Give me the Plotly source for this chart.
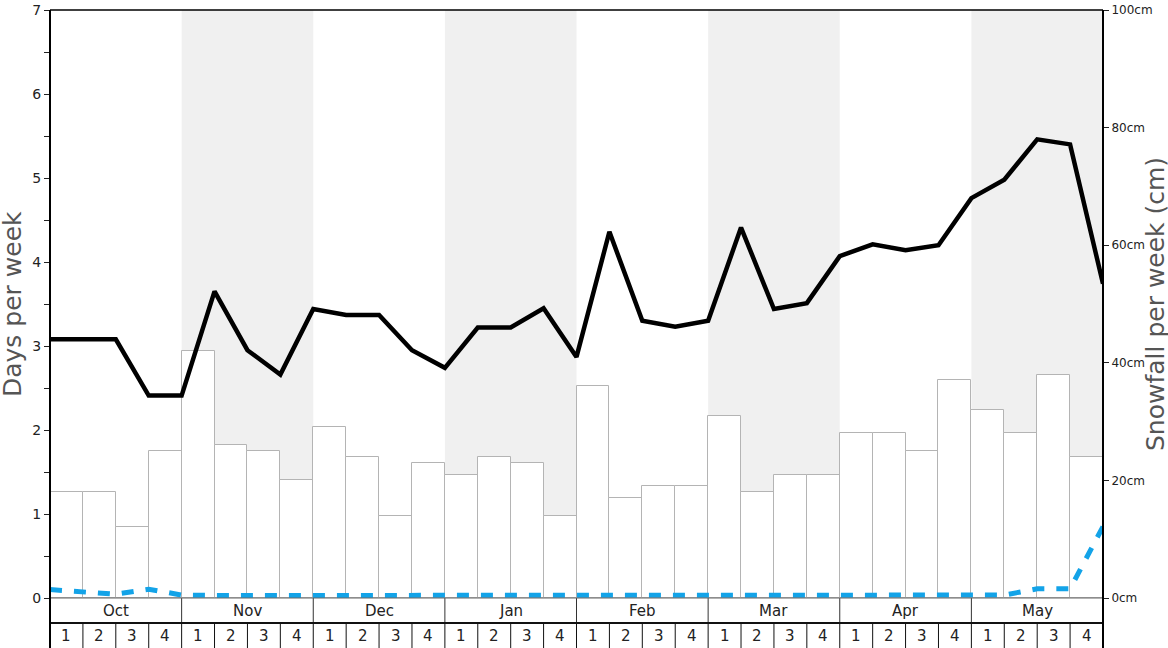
import plotly.graph_objects as go

months = ["Oct", "Nov", "Dec", "Jan", "Feb", "Mar", "Apr", "May"]
week_labels = ["1", "2", "3", "4"]
shaded_months = ["Nov", "Jan", "Mar", "May"]

# weekly snowfall (cm), 32 weeks
snowfall_cm = [18, 18, 12, 25, 42, 26, 25, 20, 29, 24, 14, 23, 21, 24, 23, 14,
               36, 17, 19, 19, 31, 18, 21, 21, 28, 28, 25, 37, 32, 28, 38, 24]

# days per week lines, sampled at week boundaries (33 points)
snow_days = [3.08, 3.08, 3.08, 2.41, 2.41, 3.65, 2.95, 2.66, 3.44, 3.37, 3.37, 2.95,
             2.74, 3.22, 3.22, 3.45, 2.87, 4.36, 3.30, 3.23, 3.30, 4.41, 3.44, 3.51,
             4.07, 4.21, 4.14, 4.20, 4.76, 4.98, 5.46, 5.40, 3.74]
other_days = [0.10, 0.07, 0.045, 0.105, 0.035, 0.03, 0.03, 0.03, 0.03, 0.03, 0.03, 0.03,
              0.03, 0.03, 0.03, 0.03, 0.03, 0.03, 0.03, 0.03, 0.03, 0.03, 0.03, 0.03,
              0.03, 0.03, 0.03, 0.03, 0.03, 0.035, 0.11, 0.11, 0.85]

n_weeks = len(snowfall_cm)
bar_x = [i + 0.5 for i in range(n_weeks)]
line_x = list(range(len(snow_days)))

PLOT_H = 588.0
PLOT_W = 1053.0
FONT = "DejaVu Sans"

fig = go.Figure()
fig.add_trace(go.Bar(x=bar_x, y=snowfall_cm, width=1, yaxis="y",
                     marker=dict(color="white", line=dict(color="#b4b4b4", width=1)),
                     showlegend=False))
fig.add_trace(go.Scatter(x=line_x, y=other_days, yaxis="y2", mode="lines",
                         line=dict(color="#13a3e8", width=5, dash="12px,12px"),
                         showlegend=False))
fig.add_trace(go.Scatter(x=line_x, y=snow_days, yaxis="y2", mode="lines",
                         line=dict(color="black", width=4.5),
                         showlegend=False))

shapes = []
annotations = []
bot1 = -25 / PLOT_H
bot2 = -50 / PLOT_H
for mi, m in enumerate(months):
    x0 = mi * 4
    if m in shaded_months:
        shapes.append(dict(type="rect", xref="x", yref="paper", x0=x0, x1=x0 + 4,
                           y0=0, y1=1, fillcolor="#f0f0f0", line_width=0, layer="below"))
    annotations.append(dict(x=x0 + 2, y=bot1 / 2, xref="x", yref="paper", text=m,
                            showarrow=False, yanchor="middle", xanchor="center",
                            font=dict(size=15, color="#222", family=FONT)))
    if mi > 0:
        shapes.append(dict(type="line", xref="x", yref="paper", x0=x0, x1=x0,
                           y0=0, y1=bot1, line=dict(color="#333", width=1)))
    for wi, w in enumerate(week_labels):
        annotations.append(dict(x=x0 + wi + 0.5, y=(bot1 + bot2) / 2, xref="x", yref="paper",
                                text=w, showarrow=False, yanchor="middle", xanchor="center",
                                font=dict(size=15, color="#222", family=FONT)))
for i in range(1, n_weeks):
    shapes.append(dict(type="line", xref="x", yref="paper", x0=i, x1=i,
                       y0=bot1, y1=bot2, line=dict(color="#111", width=1)))
shapes.append(dict(type="line", xref="paper", yref="paper", x0=0, x1=1, y0=0, y1=0,
                   line=dict(color="#666", width=1)))
shapes.append(dict(type="line", xref="paper", yref="paper", x0=0, x1=1, y0=bot1, y1=bot1,
                   line=dict(color="#111", width=2)))
shapes.append(dict(type="line", xref="paper", yref="paper", x0=0, x1=1, y0=1, y1=1,
                   line=dict(color="black", width=1.5)))
for xx in [0, 1]:
    shapes.append(dict(type="line", xref="paper", yref="paper", x0=xx, x1=xx, y0=bot2, y1=1,
                       line=dict(color="black", width=2)))

annotations.append(dict(x=-38 / PLOT_W, y=0.5, xref="paper", yref="paper",
                        text="Days per week", textangle=-90, showarrow=False,
                        xanchor="center", yanchor="middle",
                        font=dict(size=25, color="#555", family=FONT)))
annotations.append(dict(x=1 + 52 / PLOT_W, y=0.5, xref="paper", yref="paper",
                        text="Snowfall per week (cm)", textangle=-90, showarrow=False,
                        xanchor="center", yanchor="middle",
                        font=dict(size=25, color="#555", family=FONT)))

fig.update_layout(
    width=1168, height=648,
    margin=dict(l=50, r=65, t=10, b=50, autoexpand=False),
    paper_bgcolor="white", plot_bgcolor="white",
    font=dict(family=FONT, color="#222"),
    bargap=0,
    xaxis=dict(range=[0, n_weeks], showticklabels=False, showgrid=False, zeroline=False,
               ticks="", fixedrange=True, automargin=False),
    yaxis=dict(side="right", range=[0, 100], tickvals=[0, 20, 40, 60, 80, 100],
               ticktext=[f"{v}cm" for v in [0, 20, 40, 60, 80, 100]],
               ticks="outside", ticklen=5, tickcolor="#222", showgrid=False, zeroline=False,
               automargin=False,
               tickfont=dict(size=12, family=FONT, color="#222")),
    yaxis2=dict(side="left", overlaying="y", range=[0, 7], dtick=1,
                ticks="outside", ticklen=5, tickcolor="#222", showgrid=False, zeroline=False,
                automargin=False,
                tickfont=dict(size=14, family=FONT, color="#222"),
                minor=dict(dtick=0.5, ticks="outside", ticklen=5, tickcolor="#222", showgrid=False)),
    shapes=shapes,
    annotations=annotations,
)

fig.write_html("out.html", config={"displayModeBar": False},
               post_script="document.body.style.margin='0';document.body.style.overflow='hidden';")
